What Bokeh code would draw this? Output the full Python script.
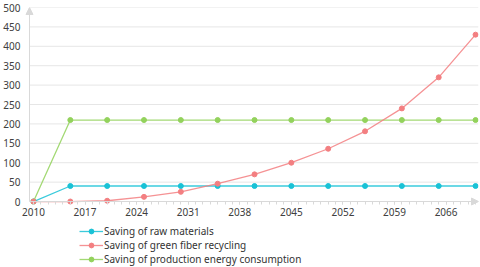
from bokeh.plotting import figure
from bokeh.models import Range1d, FixedTicker, Legend, LegendItem, Arrow, NormalHead
from bokeh.embed import file_html
from bokeh.resources import INLINE

years = [2010, 2015, 2020, 2025, 2030, 2035, 2040, 2045, 2050, 2055, 2060, 2065, 2070]
raw_materials = [0, 40, 40, 40, 40, 40, 40, 40, 40, 40, 40, 40, 40]
green_fiber = [0, 0, 2, 12, 25, 46, 70, 100, 136, 181, 240, 320, 430]
energy = [0, 210, 210, 210, 210, 210, 210, 210, 210, 210, 210, 210, 210]
series_names = ["Saving of raw materials", "Saving of green fiber recycling",
                "Saving of production energy consumption"]
x_ticks = [2010, 2017, 2024, 2031, 2038, 2045, 2052, 2059, 2066]
x_minor = list(range(2010, 2071))
y_ticks = [0, 50, 100, 150, 200, 250, 300, 350, 400, 450, 500]

CYAN = "#19C2D6"
RED = "#F37F81"
GREEN = "#93D25C"
AXIS = "#d9d9d9"
GRID = "#e6e6e6"
FONT = "Noto Sans"
FS = "10px"

X0, X1 = 2008.374, 2070.4   # frame extent (left part leaves room for the first tick label)
AX = 2009.458               # where the vertical axis line sits
Y_BOTTOM = -170             # room below the x axis (for tick labels and legend) inside the frame
p = figure(width=480, height=267, x_range=Range1d(X0, X1), y_range=Range1d(Y_BOTTOM, 500),
           output_backend="svg", toolbar_location=None,
           min_border_left=20, min_border_right=2, min_border_top=7, min_border_bottom=0)
p.outline_line_color = None
p.background_fill_color = "white"
p.border_fill_color = "white"

p.xgrid.grid_line_color = None
p.ygrid.grid_line_color = None
# horizontal grid lines starting at the axis line
p.segment(x0=[AX] * len(y_ticks), y0=y_ticks, x1=[X1] * len(y_ticks), y1=y_ticks,
          line_color=GRID, line_width=1, level="underlay")

p.yaxis.ticker = FixedTicker(ticks=y_ticks)
p.yaxis.axis_line_color = None
p.yaxis.major_tick_out = 0
p.yaxis.major_tick_in = 0
p.yaxis.minor_tick_out = 0
p.yaxis.minor_tick_in = 0
p.yaxis.major_label_standoff = 1

p.xaxis.fixed_location = 0
p.xaxis.ticker = FixedTicker(ticks=x_ticks, minor_ticks=x_minor)
p.xaxis.axis_line_color = None
p.xaxis.major_tick_line_color = AXIS
p.xaxis.minor_tick_line_color = AXIS
p.xaxis.major_tick_in = 0
p.xaxis.major_tick_out = 3
p.xaxis.minor_tick_in = 0
p.xaxis.minor_tick_out = 3
p.xaxis.major_label_standoff = 3

for ax in (p.xaxis[0], p.yaxis[0]):
    ax.major_label_text_font = FONT
    ax.major_label_text_font_size = FS
    ax.major_label_text_color = "#404040"

# axis lines with arrow heads
p.add_layout(Arrow(x_start=AX, y_start=0, x_end=AX, y_end=500, line_color=AXIS, line_width=1,
                   end=NormalHead(size=7, fill_color=AXIS, line_color=AXIS)))
p.add_layout(Arrow(x_start=AX, y_start=0, x_end=X1, y_end=0, line_color=AXIS, line_width=1,
                   end=NormalHead(size=7, fill_color=AXIS, line_color=AXIS)))

items = []
for vals, color, name in [(raw_materials, CYAN, series_names[0]),
                          (energy, GREEN, series_names[2]),
                          (green_fiber, RED, series_names[1])]:
    ln = p.line(years, vals, line_color=color, line_width=1.3, line_alpha=0.85)
    sc = p.scatter(years, vals, size=5, fill_color=color, line_color=color)
    items.append((name, [ln, sc]))

order = {n: i for i, n in enumerate(series_names)}
items.sort(key=lambda t: order[t[0]])
legend = Legend(items=[LegendItem(label=n, renderers=r) for n, r in items],
                location=(58, 1), orientation="vertical",
                label_text_font=FONT, label_text_font_size=FS, label_text_color="#333333",
                label_text_line_height=1.0,
                glyph_width=24, glyph_height=12, label_height=12, label_standoff=1,
                spacing=0, padding=0, margin=0, border_line_color=None,
                background_fill_alpha=0)
p.add_layout(legend, "center")

open("out.html", "w").write(file_html(p, INLINE))
